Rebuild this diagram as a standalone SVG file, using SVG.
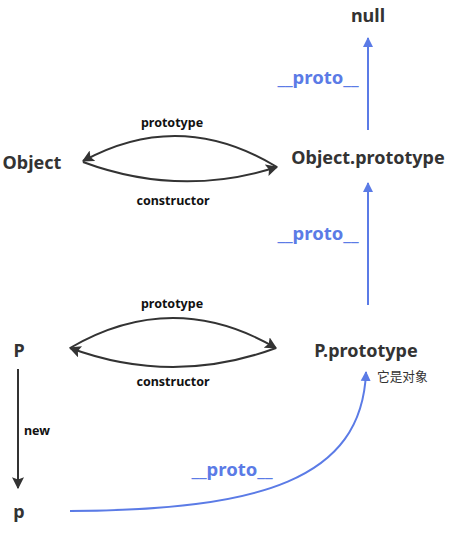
<svg xmlns="http://www.w3.org/2000/svg" width="456" height="535" viewBox="0 0 456 535">
<style>
.n{font-family:"Noto Sans","Open Sans",sans-serif;font-weight:bold;font-size:18px;fill:#333;text-anchor:middle}
.l{font-family:"Noto Sans","Open Sans",sans-serif;font-weight:bold;font-size:12.5px;fill:#111;text-anchor:middle}
.b{font-family:"Noto Sans","Open Sans",sans-serif;font-weight:bold;font-size:18.5px;fill:#5b7be6;text-anchor:middle}
.c{font-family:"Noto Sans CJK SC",sans-serif;font-size:12.7px;fill:#333}
.k{fill:none;stroke:#333;stroke-width:2}
.bl{fill:none;stroke:#5b7be6;stroke-width:2}
</style>
<defs>
<marker id="ak" viewBox="0 0 10 10" refX="9" refY="5" markerWidth="6" markerHeight="6" orient="auto" markerUnits="strokeWidth"><path d="M0,0 L10,5 L0,10 L2,5 Z" fill="#333"/></marker>
<marker id="ab" viewBox="0 0 10 10" refX="9" refY="5" markerWidth="5" markerHeight="6" orient="auto" markerUnits="strokeWidth"><path d="M0,0 L10,5 L0,10 Z" fill="#5b7be6"/></marker>
</defs>
<g id="connectors">
<path class="bl" d="M368,130 L368,38" marker-end="url(#ab)"/>
<path class="bl" d="M368,305 L368,183" marker-end="url(#ab)"/>
<path class="k" d="M277,167 Q180,108 83,161" marker-end="url(#ak)"/>
<path class="k" d="M83,162 Q180,198 277,167" marker-end="url(#ak)"/>
<path class="k" d="M70,348 Q173,288 276,348" marker-end="url(#ak)"/>
<path class="k" d="M276,348 Q173,386 70,348" marker-end="url(#ak)"/>
<path class="k" d="M18,369 L18,488" marker-end="url(#ak)"/>
<path class="bl" d="M70,511 C260,510 362,480 366,372" marker-end="url(#ab)"/>
<text class="b" x="318" y="84">__proto__</text>
<text class="b" x="318" y="240">__proto__</text>
<text class="b" x="232" y="476">__proto__</text>
<text class="l" x="172" y="127">prototype</text>
<text class="l" x="173" y="205">constructor</text>
<text class="l" x="172" y="308">prototype</text>
<text class="l" x="173" y="386">constructor</text>
<text class="l" x="37" y="435">new</text>
</g>
<g id="null"><text class="n" x="368" y="22">null</text></g>
<g id="objproto"><text class="n" x="368" y="164">Object.prototype</text></g>
<g id="object"><text class="n" x="32" y="169">Object</text></g>
<g id="P"><text class="n" x="19" y="357">P</text></g>
<g id="pproto"><text class="n" x="366" y="357">P.prototype</text><text class="c" x="377" y="381">它是对象</text></g>
<g id="p"><text class="n" x="19" y="518">p</text></g>
</svg>
